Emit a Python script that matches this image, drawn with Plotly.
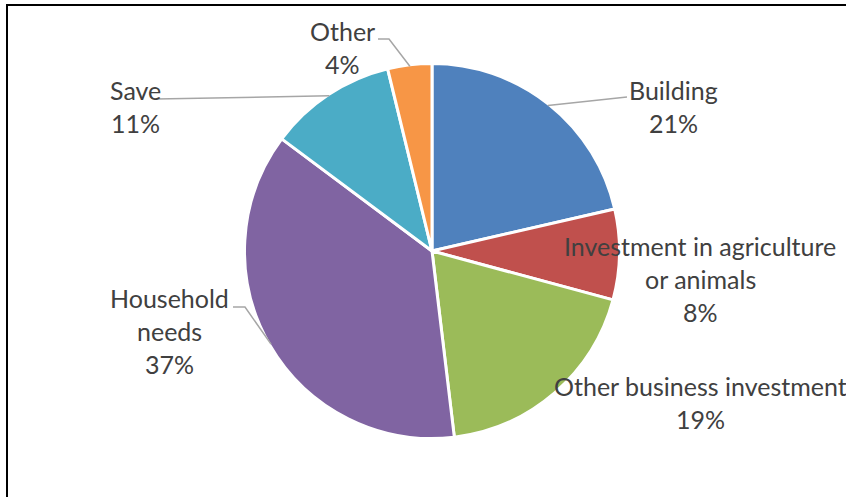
import math
import plotly.graph_objects as go

# slice data, clockwise from 12 o'clock
categories = ["Building", "Investment in agriculture or animals", "Other business investment",
              "Household needs", "Save", "Other"]
shares = [21.4, 7.8, 18.9, 37.1, 11.0, 3.8]
colors = ["#4F81BD", "#C0504D", "#9BBB59", "#8064A2", "#4BACC6", "#F79646"]

# label text lines (category part) as Excel wrapped them
label_lines = [["Building"], ["Investment in agriculture", "or animals"], ["Other business investment"],
               ["Household", "needs"], ["Save"], ["Other"]]

W, H = 846, 497
CX, CY, R = 432, 251, 186   # pie centre / radius in pixels

# label block layout: (centre x, first line y, leader elbow points) in pixels
label_layout = [
    (673, 90, [(627, 97)]),
    (700, 246, None),
    (700, 386, None),
    (169, 298, [(245, 307), (233, 307)]),
    (135, 90, [(156, 99)]),
    (342, 31, [(389, 39), (378, 39)]),
]
LINE_H = 33


def px(x, y):
    return x / W, 1 - y / H


fig = go.Figure(go.Pie(
    labels=categories, values=shares, sort=False, direction="clockwise", rotation=0,
    marker=dict(colors=colors, line=dict(color="white", width=3)),
    textinfo="none", hoverinfo="label+percent", showlegend=False,
    domain=dict(x=[(CX - R - 1.5) / W, (CX + R + 1.5) / W],
                y=[(H - CY - R - 1.5) / H, (H - CY + R + 1.5) / H]),
))

total = sum(shares)
annotations = []
shapes = []
cum = 0
for i, v in enumerate(shares):
    mid = (cum + v / 2) / total * 2 * math.pi
    cum += v
    lx, ly, elbow = label_layout[i]
    lines = label_lines[i] + [f"{round(v / total * 100)}%"]
    for k, t in enumerate(lines):
        x, y = px(lx, ly + k * LINE_H)
        annotations.append(dict(x=x, y=y, xref="paper", yref="paper", text=t, showarrow=False,
                                xanchor="center", yanchor="middle",
                                font=dict(family="Lato", size=25, color="#404040")))
    if elbow:
        pts = [(CX + R * math.sin(mid), CY - R * math.cos(mid))] + elbow
        path = "M " + " L ".join(f"{px(a, b)[0]},{px(a, b)[1]}" for a, b in pts)
        shapes.append(dict(type="path", path=path, xref="paper", yref="paper",
                           line=dict(color="#A6A6A6", width=1.5)))

# outer chart frame (cut off at right/bottom in the original)
fx0, fy0 = px(7, 5)
shapes.append(dict(type="rect", xref="paper", yref="paper", x0=fx0, y0=fy0, x1=1.05, y1=-0.05,
                   line=dict(color="black", width=2)))

fig.update_layout(width=W, height=H, margin=dict(l=0, r=0, t=0, b=0),
                  paper_bgcolor="white", plot_bgcolor="white",
                  annotations=annotations, shapes=shapes)
# drop the page's default body margin so the figure sits at the window corner
fig.write_html("out.html", config={"displayModeBar": False},
               post_script="document.body.style.margin='0';")
